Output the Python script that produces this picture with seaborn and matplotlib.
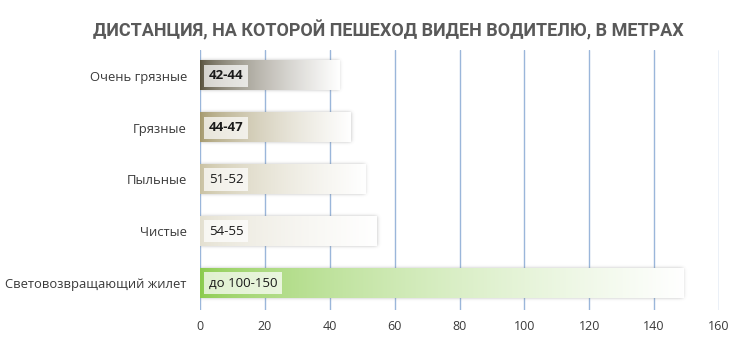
import numpy as np
import pandas as pd
import matplotlib
matplotlib.use("Agg")
import matplotlib.pyplot as plt
import seaborn as sns
from matplotlib.colors import to_rgb

# Data
categories = ["Очень грязные", "Грязные", "Пыльные", "Чистые", "Световозвращающий жилет"]
distance = [43, 46.5, 51, 54.5, 149]
range_labels = ["42-44", "44-47", "51-52", "54-55", "до 100-150"]
x_ticks = [0, 20, 40, 60, 80, 100, 120, 140, 160]
title = "ДИСТАНЦИЯ, НА КОТОРОЙ ПЕШЕХОД ВИДЕН ВОДИТЕЛЮ, В МЕТРАХ"

# Styling
start_colors = ["#544d38", "#a3976a", "#c8c0a0", "#e3dfcf", "#8acb4c"]
label_weights = ["bold", "bold", "normal", "normal", "normal"]
grid_color = "#9ab6da"
text_color = "#3a3a3a"

sns.set_theme(style="white")
plt.rcParams["font.family"] = ["Open Sans", "DejaVu Sans"]

W, H = 736, 343
fig = plt.figure(figsize=(W / 100, H / 100), dpi=100)
ax = fig.add_axes([200 / W, 33 / H, 519 / W, 260 / H])

df = pd.DataFrame({"category": categories, "distance": distance})
sns.barplot(data=df, x="distance", y="category", orient="h", ax=ax,
            width=0.56, color="white", edgecolor="none")

ax.set_xlim(0, 160)
ax.set_ylim(4.52, -0.5)
ax.set_xticks(x_ticks)
ax.set_xticklabels([str(t) for t in x_ticks])
ax.xaxis.grid(True, color=grid_color, lw=1)
ax.yaxis.grid(False)
ax.set_axisbelow(True)
for s in ax.spines.values():
    s.set_visible(False)
ax.set_xlabel("")
ax.set_ylabel("")
ax.tick_params(axis="x", length=0, pad=7, labelsize=9, labelcolor=text_color)
ax.tick_params(axis="y", length=0, pad=9.5, labelsize=9.4, labelcolor=text_color)


def blur1d(a, sigma, axis):
    r = int(3 * sigma) + 1
    k = np.exp(-0.5 * (np.arange(-r, r + 1) / sigma) ** 2)
    k /= k.sum()
    return np.apply_along_axis(lambda v: np.convolve(v, k, mode="same"), axis, a)


fig.canvas.draw()
inv = ax.transData.inverted()
patches = list(ax.patches)
for i, p in enumerate(patches):
    x0, y0 = p.get_x(), p.get_y()
    w, h = p.get_width(), p.get_height()
    y1 = y0 + h
    p.set_visible(False)

    # soft shadow around the bar
    (px0, py_top) = ax.transData.transform((x0, y0))
    (px1, py_bot) = ax.transData.transform((x0 + w, y1))
    pad = 6
    bw = int(round(px1 - px0))
    bh = int(round(abs(py_bot - py_top)))
    mask = np.zeros((bh + 2 * pad, bw + 2 * pad))
    mask[pad:pad + bh, pad:pad + bw] = 1.0
    mask = blur1d(blur1d(mask, 1.6, 0), 2.0, 1)
    shadow = np.zeros(mask.shape + (4,))
    shadow[..., :3] = 0.45
    shadow[..., 3] = mask * 0.5
    ex0 = inv.transform((px0 - pad, 0))[0]
    ex1 = inv.transform((px0 + bw + pad, 0))[0]
    dy = h * pad / bh
    ax.imshow(shadow, extent=(ex0, ex1, y1 + dy, y0 - dy), aspect="auto",
              zorder=2, interpolation="bilinear")

    # horizontal gradient fill, colour to white
    t = np.linspace(0, 1, 256) ** 0.6
    c = np.array(to_rgb(start_colors[i]))
    row = c[None, :] * (1 - t[:, None]) + t[:, None]
    img = row[None, :, :]
    ax.imshow(img, extent=(x0, x0 + w, y1, y0), aspect="auto", zorder=3,
              interpolation="bilinear")

    ax.annotate(range_labels[i], xy=(x0, y0 + h / 2), xytext=(9, 0),
                textcoords="offset pixels", ha="left", va="center",
                fontsize=9.5, fontweight=label_weights[i], color="#1a1a1a",
                zorder=5,
                bbox=dict(boxstyle="square,pad=0.35", facecolor="white",
                          alpha=0.72, edgecolor="none"))

ax.set_xlim(0, 160)
ax.set_ylim(4.52, -0.5)

fig.text(388 / W, 1 - 30 / H, title, ha="center", va="center",
         fontsize=13, fontweight="bold", color="#595959",
         family=["Roboto", "DejaVu Sans"])

fig.savefig("out.png", dpi=100, facecolor="white")
